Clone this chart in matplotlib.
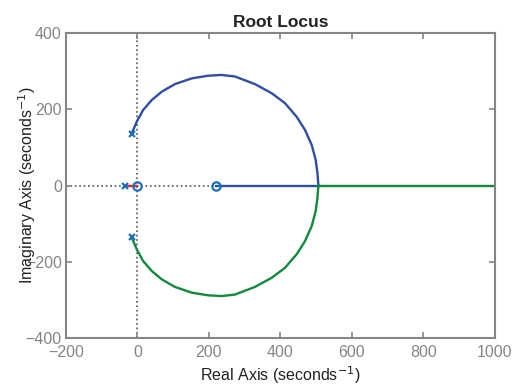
import matplotlib.pyplot as plt

plt.rcParams['font.family'] = ['Liberation Sans', 'DejaVu Sans']

# upper complex branch, pole -> breakaway point
upper_re = [-16, -2, 16, 40, 68, 105, 152, 198, 235, 273, 329, 376, 413, 446,
            469, 488, 499, 504, 506, 507]
upper_im = [136, 167, 198, 224, 246, 266, 281, 288, 290, 286, 266, 242, 216, 180,
            146, 106, 67, 32, 6, 0]
# lower branch is the conjugate
lower_re = upper_re
lower_im = [-v for v in upper_im]
# real-axis segments
blue_axis_re = [220, 507]
green_axis_re = [507, 1000]
red_re = [-35, 0]

poles_re = [-16, -16, -35]
poles_im = [136, -136, 0]
zeros_re = [0, 220]
zeros_im = [0, 0]

xticks = [-200, 0, 200, 400, 600, 800, 1000]
yticks = [-400, -200, 0, 200, 400]

blue = '#2f4ea6'
green = '#13893b'
red = '#e8262a'
mark = '#1a72bf'
gray = '#858585'

fig = plt.figure(figsize=(5.15, 3.87), dpi=100)
ax = fig.add_axes([0.128, 0.1266, 0.8326, 0.7881])

ax.axhline(0, color='#555555', ls=':', lw=1.2, zorder=1)
ax.axvline(0, color='#555555', ls=':', lw=1.2, zorder=1)

ax.plot(upper_re, upper_im, color=blue, lw=1.7, zorder=2)
ax.plot(blue_axis_re, [0, 0], color=blue, lw=1.7, zorder=2)
ax.plot(lower_re, lower_im, color=green, lw=1.7, zorder=2)
ax.plot(green_axis_re, [0, 0], color=green, lw=1.7, zorder=2)
ax.plot(red_re, [0, 0], color=red, lw=1.7, zorder=2)

ax.plot(poles_re, poles_im, 'x', color=mark, ms=5, mew=1.6, zorder=3)
ax.plot(zeros_re, zeros_im, 'o', mfc='none', mec=mark, ms=6, mew=1.6, zorder=3)

ax.set_xlim(-200, 1000)
ax.set_ylim(-400, 400)
ax.set_xticks(xticks)
ax.set_yticks(yticks)
ax.tick_params(direction='in', top=True, right=True, length=4, width=1.2,
               colors=gray, labelsize=11.5)
ax.tick_params(axis='x', pad=5)
ax.tick_params(axis='y', pad=3)
for s in ax.spines.values():
    s.set_color(gray)
    s.set_linewidth(1.5)

ax.set_title('Root Locus', fontsize=12.5, fontweight='bold', color='#222222', pad=4)
ax.set_xlabel('Real Axis (seconds$^{-1}$)', fontsize=11.5, color='#222222', labelpad=3)
ax.set_ylabel('Imaginary Axis (seconds$^{-1}$)', fontsize=11.5, color='#222222', labelpad=-9)

fig.savefig('out.png', dpi=100)
